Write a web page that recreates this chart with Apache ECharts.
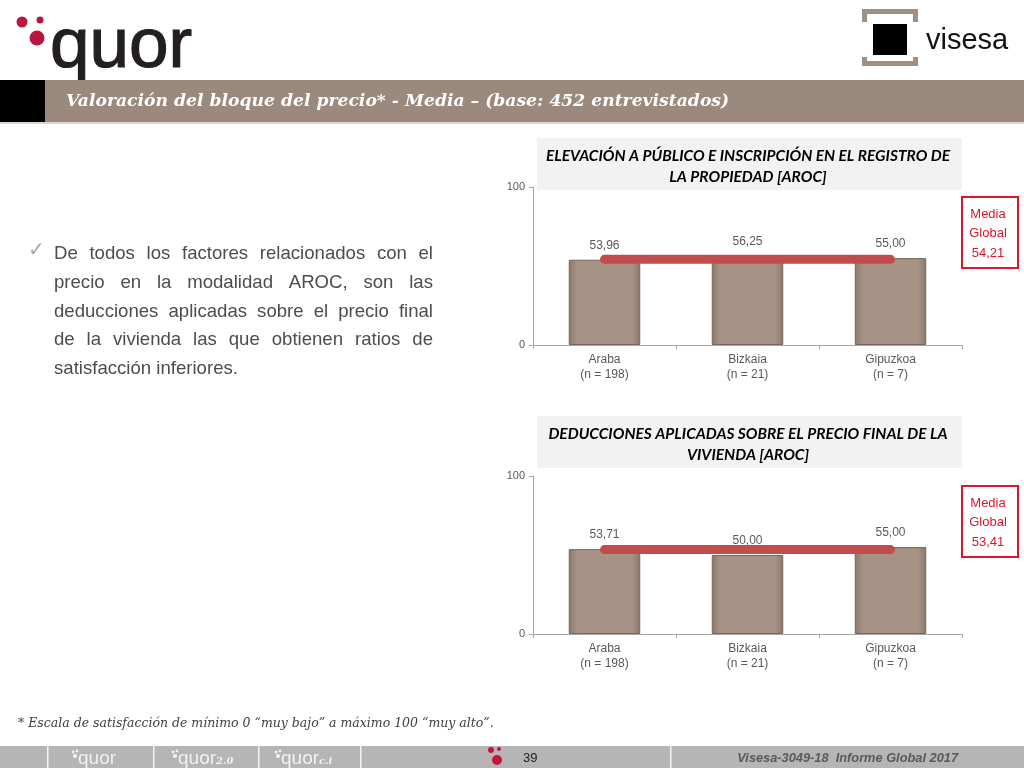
<!DOCTYPE html>
<html><head><meta charset="utf-8">
<script src="https://cdn.jsdelivr.net/npm/echarts@6/dist/echarts.min.js"></script>
<style>html,body{margin:0;padding:0;background:#fff}#c{width:1024px;height:768px}</style>
</head><body><div id="c"></div>
<script>
// ---------- data ----------
const categories = ['Araba', 'Bizkaia', 'Gipuzkoa'];
const sampleSizes = ['(n = 198)', '(n = 21)', '(n = 7)'];
const valuesElevacion = [53.96, 56.25, 55.00];
const valuesDeducciones = [53.71, 50.00, 55.00];
const globalMeans = [54.21, 53.41];
const yMin = 0, yMax = 100;
const chartTitles = [
  ['ELEVACIÓN A PÚBLICO E INSCRIPCIÓN EN EL REGISTRO DE', 'LA PROPIEDAD [AROC]'],
  ['DEDUCCIONES APLICADAS SOBRE EL PRECIO FINAL DE LA', 'VIVIENDA [AROC]']
];
const meanLabel = ['Media', 'Global'];
const pageTitle = 'Valoración del bloque del precio* - Media – (base: 452 entrevistados)';
const paragraphLines = [
  'De todos los factores relacionados con el',
  'precio en la modalidad AROC, son las',
  'deducciones aplicadas sobre el precio final',
  'de la vivienda las que obtienen ratios de',
  'satisfacción inferiores.'
];
const footnote = '* Escala de satisfacción de mínimo 0 “muy bajo” a máximo 100 “muy alto”.';
const pageNumber = '39';
const reportLabel = 'Visesa-3049-18  Informe Global 2017';

// ---------- helpers ----------
const fmt = v => v.toFixed(2).replace('.', ',');
const seriesValues = [valuesElevacion, valuesDeducciones];
const gridTops = [187, 476];
const titleBoxTops = [138, 416];
const meanBoxTops = [197, 486];

const barColor = {
  type: 'linear', x: 0, y: 0, x2: 1, y2: 0,
  colorStops: [
    { offset: 0, color: '#8c796d' }, { offset: 0.12, color: '#a69385' },
    { offset: 0.88, color: '#a69385' }, { offset: 1, color: '#8c796d' }
  ]
};

const grids = [], xAxes = [], yAxes = [], series = [];
seriesValues.forEach((vals, i) => {
  grids.push({ left: 533, top: gridTops[i], width: 429, height: 158 });
  xAxes.push({
    type: 'category', gridIndex: i,
    data: categories.map((c, j) => c + '\n' + sampleSizes[j]),
    axisLine: { lineStyle: { color: '#a6a6a6' } },
    axisTick: { show: true, length: 4, lineStyle: { color: '#a6a6a6' } },
    axisLabel: { color: '#595959', fontSize: 12, fontFamily: 'Liberation Sans', lineHeight: 15, margin: 7 }
  });
  yAxes.push({
    type: 'value', gridIndex: i, min: yMin, max: yMax, interval: 100,
    splitLine: { show: false },
    axisLine: { show: true, lineStyle: { color: '#a6a6a6' } },
    axisTick: { show: true, length: 4, lineStyle: { color: '#a6a6a6' } },
    axisLabel: { color: '#595959', fontSize: 11, fontFamily: 'Liberation Sans', margin: 8 }
  });
  series.push({
    type: 'bar', xAxisIndex: i, yAxisIndex: i, data: vals, barWidth: '50%',
    itemStyle: { color: barColor, borderColor: '#76665c', borderWidth: 1 },
    label: { show: true, position: 'top', distance: 8, formatter: p => fmt(p.value),
      color: '#595959', fontSize: 12, fontFamily: 'Liberation Sans' },
    z: 2
  });
  series.push({
    type: 'line', xAxisIndex: i, yAxisIndex: i,
    data: categories.map(() => globalMeans[i]),
    symbol: 'none', silent: true,
    lineStyle: { width: 9, color: '#c24b4c', cap: 'round' },
    z: 5
  });
});

// ---------- graphics ----------
const g = [];
// quor logo
g.push({ type: 'circle', shape: { cx: 22, cy: 22, r: 5.5 }, style: { fill: '#b8163e' } });
g.push({ type: 'circle', shape: { cx: 40, cy: 20, r: 3.5 }, style: { fill: '#b8163e' } });
g.push({ type: 'circle', shape: { cx: 37, cy: 38, r: 7.5 }, style: { fill: '#b8163e' } });
g.push({ type: 'text', x: 50, y: 47, style: { text: 'quor', fontSize: 71, fontFamily: 'Liberation Sans', fontWeight: 'normal', fill: '#231f20', stroke: '#231f20', lineWidth: 1.2, textVerticalAlign: 'middle' } });
// visesa logo
const br = '#a08f83';
g.push({ type: 'polygon', shape: { points: [[862,9],[918,9],[918,22],[913,22],[913,14],[867,14],[867,22],[862,22]] }, style: { fill: br } });
g.push({ type: 'polygon', shape: { points: [[862,66],[918,66],[918,57],[913,57],[913,61],[867,61],[867,57],[862,57]] }, style: { fill: br } });
g.push({ type: 'rect', shape: { x: 873, y: 24, width: 34, height: 31 }, style: { fill: '#000' } });
g.push({ type: 'text', x: 926, y: 41, style: { text: 'visesa', fontSize: 29, fontFamily: 'Liberation Sans', fill: '#111', textVerticalAlign: 'middle' } });
// title bar
g.push({ type: 'rect', shape: { x: 0, y: 80, width: 45, height: 42 }, style: { fill: '#000' } });
g.push({ type: 'rect', shape: { x: 45, y: 80, width: 979, height: 42 }, style: { fill: '#9c897d' } });
g.push({ type: 'rect', shape: { x: 0, y: 122, width: 1024, height: 2 }, style: { fill: '#dcd6d2' } });
g.push({ type: 'text', x: 66, y: 102, style: { text: pageTitle, fontSize: 17.2, fontStyle: 'italic', fontWeight: 'bold', fontFamily: 'DejaVu Serif', fill: '#fff', textVerticalAlign: 'middle' } });
// chart titles & mean boxes
chartTitles.forEach((lines, i) => {
  g.push({ type: 'rect', shape: { x: 537, y: titleBoxTops[i], width: 425, height: 52 }, style: { fill: '#f2f2f2' } });
  lines.forEach((t, k) => g.push({ type: 'text', x: 748, y: titleBoxTops[i] + 18 + k * 21,
    style: { text: t, fontSize: 15.5, fontStyle: 'italic', fontWeight: 'bold', fontFamily: 'Lato', fill: '#000', textAlign: 'center', textVerticalAlign: 'middle' } }));
  g.push({ type: 'rect', shape: { x: 962, y: meanBoxTops[i], width: 56, height: 71 }, style: { fill: '#fff', stroke: '#d9182d', lineWidth: 2 } });
  meanLabel.concat([fmt(globalMeans[i])]).forEach((t, k) => g.push({ type: 'text', x: 988, y: meanBoxTops[i] + 17 + k * 19.5,
    style: { text: t, fontSize: 13, fontFamily: 'Liberation Sans', fill: '#d9182d', textAlign: 'center', textVerticalAlign: 'middle' } }));
});
// paragraph (justified)
const pSize = 18.6;
const ctx = document.createElement('canvas').getContext('2d');
ctx.font = pSize + 'px "Liberation Sans"';
const pLeft = 54, pRight = 433;
g.push({ type: 'text', x: 28, y: 251, style: { text: '✓', fontSize: 20, fontFamily: 'DejaVu Sans', fill: '#a6a6a6', textVerticalAlign: 'middle' } });
paragraphLines.forEach((line, k) => {
  const y = 254 + k * 28.7;
  const words = line.split(' ');
  const last = k === paragraphLines.length - 1;
  const widths = words.map(w => ctx.measureText(w).width);
  const total = widths.reduce((a, b) => a + b, 0);
  const gap = last ? ctx.measureText(' ').width : (pRight - pLeft - total) / (words.length - 1);
  let x = pLeft;
  words.forEach((w, j) => {
    g.push({ type: 'text', x: x, y: y, style: { text: w, fontSize: pSize, fontFamily: 'Liberation Sans', fill: '#4d4d4d', textVerticalAlign: 'middle' } });
    x += widths[j] + gap;
  });
});
// footnote
g.push({ type: 'text', x: 18, y: 724, style: { text: footnote, fontSize: 12.5, fontStyle: 'italic', fontFamily: 'DejaVu Serif', fill: '#404040', textVerticalAlign: 'middle' } });
// footer
g.push({ type: 'rect', shape: { x: 0, y: 746, width: 1024, height: 22 }, style: { fill: '#b5b5b5' } });
[47, 153, 258, 360, 670].forEach(x => g.push({ type: 'rect', shape: { x: x, y: 746, width: 1.5, height: 22 }, style: { fill: '#f4f4f4' } }));
[[72, ''], [172, '2.0'], [275, 'c.i']].forEach(([x, sub]) => {
  g.push({ type: 'circle', shape: { cx: x + 1, cy: 752, r: 1.4 }, style: { fill: '#f2f2f2' } });
  g.push({ type: 'circle', shape: { cx: x + 5, cy: 751, r: 1.4 }, style: { fill: '#f2f2f2' } });
  g.push({ type: 'circle', shape: { cx: x + 3, cy: 756, r: 2.1 }, style: { fill: '#f2f2f2' } });
  g.push({ type: 'text', x: x + 6, y: 759, style: { text: '{a|quor}' + (sub ? '{b|' + sub + '}' : ''),
    rich: { a: { fontSize: 19, fontFamily: 'Liberation Sans', fill: '#f2f2f2' },
            b: { fontSize: 10, fontStyle: 'italic', fontWeight: 'bold', fontFamily: 'DejaVu Serif', fill: '#f2f2f2', padding: [5, 0, 0, 0] } },
    textVerticalAlign: 'middle' } });
});
g.push({ type: 'circle', shape: { cx: 491, cy: 750, r: 3 }, style: { fill: '#c8143c' } });
g.push({ type: 'circle', shape: { cx: 499, cy: 749, r: 2 }, style: { fill: '#c8143c' } });
g.push({ type: 'circle', shape: { cx: 497, cy: 760, r: 5 }, style: { fill: '#c8143c' } });
g.push({ type: 'text', x: 523, y: 758, style: { text: pageNumber, fontSize: 13, fontFamily: 'Liberation Sans', fill: '#222', textVerticalAlign: 'middle' } });
g.push({ type: 'text', x: 958, y: 758, style: { text: reportLabel, fontSize: 12.8, fontStyle: 'italic', fontWeight: 'bold', fontFamily: 'Liberation Sans', fill: '#5a5a5a', textAlign: 'right', textVerticalAlign: 'middle' } });

const chart = echarts.init(document.getElementById('c'), null, { renderer: 'canvas' });
chart.setOption({
  backgroundColor: '#fff',
  animation: false,
  grid: grids, xAxis: xAxes, yAxis: yAxes, series: series,
  graphic: { elements: g }
});
</script></body></html>
